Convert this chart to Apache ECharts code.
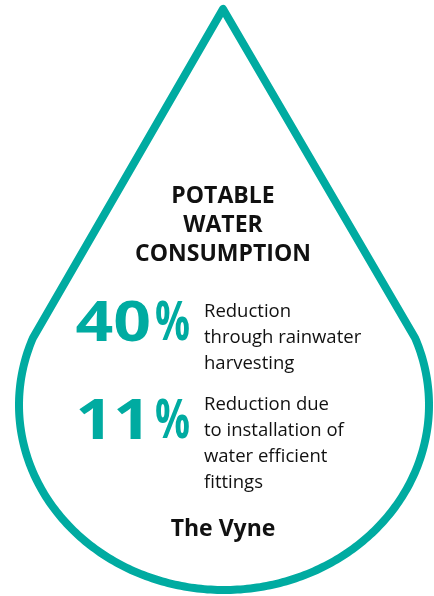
<!DOCTYPE html>
<html><head><meta charset="utf-8">
<script src="https://cdn.jsdelivr.net/npm/echarts@6/dist/echarts.min.js"></script>
<style>html,body{margin:0;padding:0;background:#fff}#c{width:434px;height:596px}</style>
</head><body><div id="c"></div>
<script>
var titleLines = ["POTABLE", "WATER", "CONSUMPTION"];
var statValues = [40, 11];
var statTexts = [
  ["Reduction", "through rainwater", "harvesting"],
  ["Reduction due", "to installation of", "water efficient", "fittings"]
];
var footer = "The Vyne";

var TEAL = "#00ABA1";
var chart = echarts.init(document.getElementById('c'), null, {renderer: 'canvas'});

// drop outline: apex + elliptical bottom
function dropPoints() {
  var apex = [223, 9];
  var cx = 224, cy = 405, rx = 205, ry = 185;
  var yk = 338;
  var t0 = Math.asin((yk - cy) / ry);
  var a0 = Math.PI - t0, a1 = t0;
  var pts = [apex];
  var n = 240;
  for (var i = 0; i <= n; i++) {
    var a = a0 + (a1 - a0) * i / n;
    pts.push([cx + rx * Math.cos(a), cy + ry * Math.sin(a)]);
  }
  return pts;
}

var elements = [];
elements.push({
  type: 'polygon',
  shape: {points: dropPoints()},
  style: {fill: 'none', stroke: TEAL, lineWidth: 8, lineJoin: 'round'}
});
var titleY = [196, 225, 254];
titleLines.forEach(function (t, i) {
  elements.push({type: 'text', x: 223, y: titleY[i],
    style: {text: t, font: 'bold 23px "Open Sans"', fill: '#111', align: 'center', verticalAlign: 'middle'}});
});
var statY = [325, 423];
var descY = [[312, 338, 364], [405, 431, 457, 483]];
statValues.forEach(function (v, i) {
  elements.push({type: 'text', x: 151, y: statY[i], scaleX: 1.18,
    style: {text: String(v), font: 'bold 56px "Open Sans"', fill: TEAL, align: 'right', verticalAlign: 'middle'}});
  elements.push({type: 'text', x: 155, y: statY[i], scaleX: 0.72,
    style: {text: '%', font: 'bold 54px "Open Sans"', fill: TEAL, align: 'left', verticalAlign: 'middle'}});
  statTexts[i].forEach(function (t, j) {
    elements.push({type: 'text', x: 204, y: descY[i][j],
      style: {text: t, font: '18.5px "Open Sans"', fill: '#111', align: 'left', verticalAlign: 'middle'}});
  });
});
elements.push({type: 'text', x: 223, y: 529,
  style: {text: footer, font: 'bold 23px "Open Sans"', fill: '#111', align: 'center', verticalAlign: 'middle'}});

chart.setOption({animation: false, graphic: {elements: elements}});
</script></body></html>
